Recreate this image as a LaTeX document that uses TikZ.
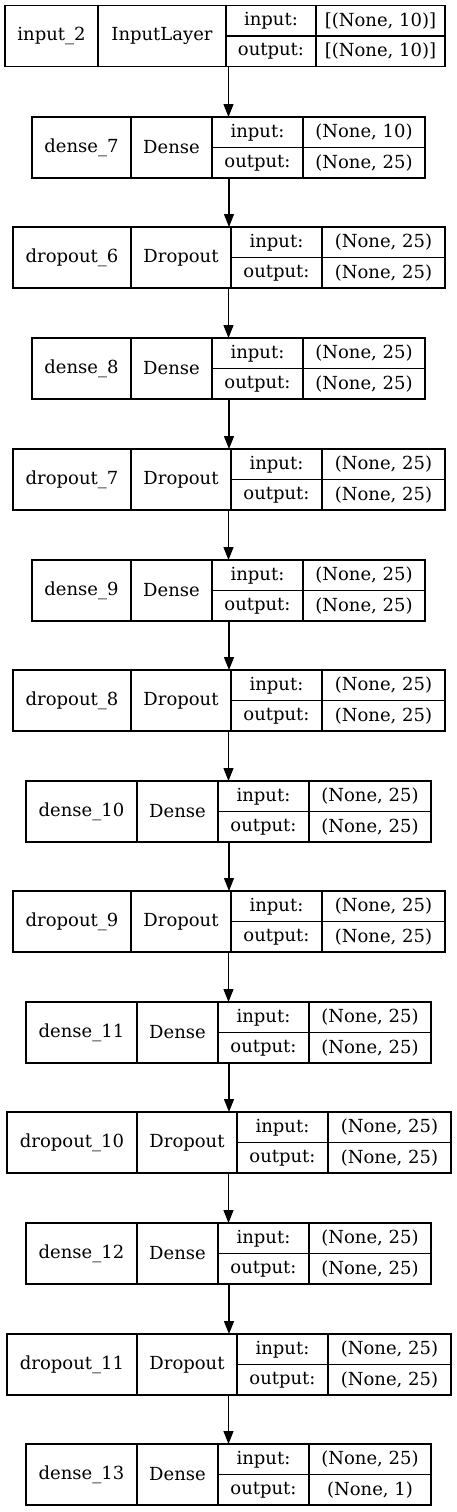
\documentclass[tikz,border=0pt]{standalone}
\usepackage{fontspec}
\setmainfont{DejaVu Serif}
\usetikzlibrary{arrows.meta,fit}

\tikzset{
  cell/.style={rectangle,draw,anchor=north west,minimum height=61pt,inner sep=0pt,outer sep=0pt,line width=1.2pt},
  half/.style={rectangle,draw,anchor=north west,minimum height=30.5pt,inner sep=0pt,outer sep=0pt,line width=1.2pt},
  arr/.style={-{Triangle[length=13pt,width=10pt]},line width=1.2pt}
}

\begin{document}
\begin{tikzpicture}[x=1pt,y=-1pt,font=\fontsize{18}{21}\selectfont]
  \useasboundingbox (0,0) rectangle (457,1512);

  % one box per layer: name | type | input:/output: | shapes
  \foreach \id/\x/\y/\nm/\tp/\wn/\wt/\wl/\wv/\vin/\vout in {
      i2/5/5.5/input\_2/InputLayer/93/128/90/129/{[(None, 10)]}/{[(None, 10)]},
      d7/32/117/dense\_7/Dense/99/81/91/122/{(None, 10)}/{(None, 25)},
      o6/13/227/dropout\_6/Dropout/118/100/91/123/{(None, 25)}/{(None, 25)},
      d8/32/338/dense\_8/Dense/99/81/91/122/{(None, 25)}/{(None, 25)},
      o7/13/449/dropout\_7/Dropout/118/100/91/123/{(None, 25)}/{(None, 25)},
      d9/32/560/dense\_9/Dense/99/81/91/122/{(None, 25)}/{(None, 25)},
      o8/13/670/dropout\_8/Dropout/118/100/91/123/{(None, 25)}/{(None, 25)},
      d10/26/781/dense\_10/Dense/111/81/91/122/{(None, 25)}/{(None, 25)},
      o9/13/891/dropout\_9/Dropout/118/100/91/123/{(None, 25)}/{(None, 25)},
      d11/26/1002/dense\_11/Dense/111/81/91/122/{(None, 25)}/{(None, 25)},
      o10/7/1112/dropout\_10/Dropout/130/100/91/123/{(None, 25)}/{(None, 25)},
      d12/26/1223/dense\_12/Dense/111/81/91/122/{(None, 25)}/{(None, 25)},
      o11/7/1334/dropout\_11/Dropout/130/100/91/123/{(None, 25)}/{(None, 25)},
      d13/26/1444/dense\_13/Dense/111/81/91/122/{(None, 25)}/{(None, 1)}}
  {
    \draw
    (\x,\y)node[cell,minimum width=\wn pt](\id-n){\nm}
    (\id-n.north east)node[cell,minimum width=\wt pt](\id-t){\tp}
    (\id-t.north east)node[half,minimum width=\wl pt](\id-i){input:}
    (\id-i.north east)node[half,minimum width=\wv pt](\id-iv){\vin}
    (\id-i.south west)node[half,minimum width=\wl pt](\id-o){output:}
    (\id-o.north east)node[half,minimum width=\wv pt](\id-ov){\vout}
    ;
    \node[fit=(\id-n)(\id-ov),inner sep=0pt,outer sep=0pt](\id){};
  }

  % connectors
  \foreach \a/\b in {i2/d7,d7/o6,o6/d8,d8/o7,o7/d9,d9/o8,o8/d10,d10/o9,o9/d11,d11/o10,o10/d12,d12/o11,o11/d13}
    \draw[arr] (\a.south -| \b.north) -- (\b.north);
\end{tikzpicture}
\end{document}
